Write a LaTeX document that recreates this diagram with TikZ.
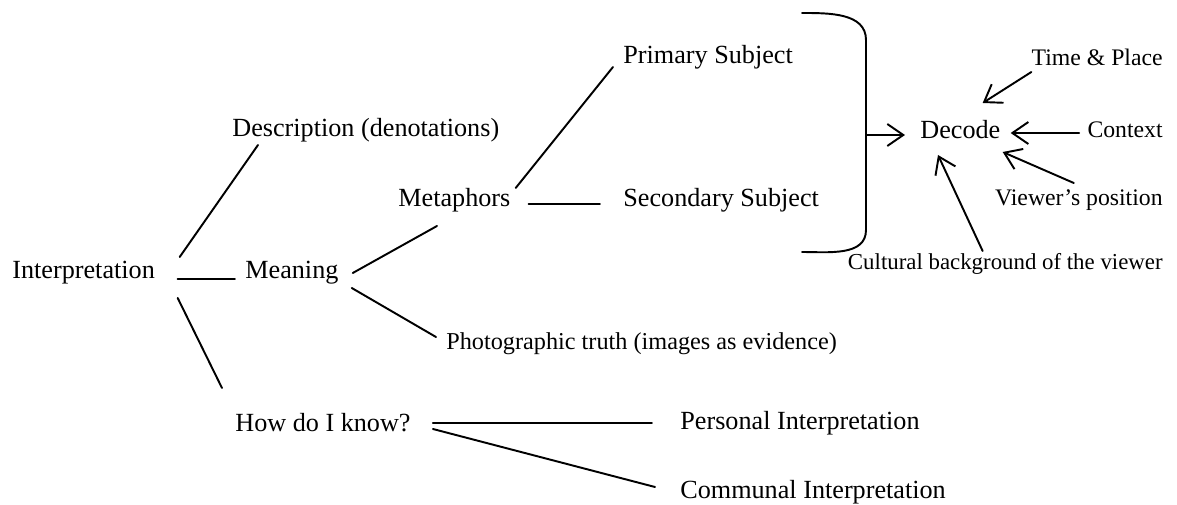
\documentclass[tikz,border=0pt]{standalone}
\usepackage{fontspec}
\setmainfont{Liberation Serif}
\usepackage{tikz}
\usetikzlibrary{arrows.meta,calc}

\newcommand{\mainfs}{\fontsize{14.9}{17}\selectfont}
\newcommand{\smallfs}{\fontsize{13.5}{16}\selectfont}

\begin{document}
\begin{tikzpicture}[
	line cap=round,
	line join=round,
	term/.style={font=\mainfs, anchor=west, inner sep=0pt},
	note/.style={font=\smallfs, anchor=east, inner sep=0pt},
	link/.style={line width=1.1pt},
	pointer/.style={line width=1.1pt, -{Straight Barb[length=0.32cm, width=0.44cm, line width=1.1pt]}}
	]
	\useasboundingbox (0,0) rectangle (23.54,10.10);

	% left part of the tree
	\node[term] (interp) at (0.24,4.64) {Interpretation};
	\node[term] (descr) at (4.64,7.50) {Description (denotations)};
	\node[term] (meaning) at (4.90,4.64) {Meaning};
	\node[term] (howknow) at (4.70,1.64) {How do I know?};
	\node[term] (metaph) at (7.96,6.10) {Metaphors};
	\node[term, font=\fontsize{13.8}{16}\selectfont] (photo) at (8.92,3.22) {Photographic truth (images as evidence)};
	\node[term] (primary) at (12.46,8.96) {Primary Subject};
	\node[term] (secondary) at (12.46,6.10) {Secondary Subject};
	\node[term] (personal) at (13.60,1.64) {Personal Interpretation};
	\node[term] (communal) at (13.60,0.26) {Communal Interpretation};

	% right part
	\node[term] (decode) at (18.40,7.50) {Decode};
	\node[note] (timeplace) at (23.26,8.96) {Time \& Place};
	\node[note] (context) at (23.26,7.50) {Context};
	\node[note] (viewer) at (23.26,6.10) {Viewer's position};
	\node[note, font=\fontsize{13}{15}\selectfont] (cultural) at (23.26,4.82) {Cultural background of the viewer};

	\draw[link] ($(interp.east)+(0.49,0.32)$) -- ($(descr.west)+(0.52,-0.30)$);
	\draw[link] ($(interp.east)+(0.45,-0.12)$) -- ($(meaning.west)+(-0.20,-0.12)$);
	\draw[link] ($(interp.east)+(0.45,-0.50)$) -- ($(howknow.west)+(-0.26,0.70)$);
	\draw[link] ($(meaning.east)+(0.28,0)$) -- ($(metaph.west)+(0.78,-0.52)$);
	\draw[link] ($(meaning.east)+(0.26,-0.30)$) -- ($(photo.west)+(-0.20,0.14)$);
	\draw[link] ($(metaph.east)+(0.10,0.24)$) -- ($(primary.west)+(-0.20,-0.20)$);
	\draw[link] ($(metaph.east)+(0.36,-0.08)$) -- ($(secondary.west)+(-0.46,-0.08)$);
	\draw[link] ($(howknow.east)+(0.44,0)$) -- ($(personal.west)+(-0.56,0)$);
	\draw[link] ($(howknow.east)+(0.44,-0.12)$) -- ($(communal.west)+(-0.50,0.10)$);

	% brace
	\coordinate (bracetop) at (16.04,9.84);
	\coordinate (bracebot) at (16.04,5.06);
	\coordinate (bracemid) at (17.32,7.40);
	\draw[link] (bracetop) to[out=0,in=90] (17.32,9.30) -- (17.32,5.50) to[out=-90,in=0] (bracebot);
	\draw[pointer] (bracemid) -- ($(decode.west)+(-0.30,-0.10)$);

	\draw[pointer] ($(timeplace.west)+(0,-0.30)$) -- ($(decode.east)+(-0.36,0.54)$);
	\draw[pointer] ($(context.west)+(-0.16,-0.06)$) -- ($(decode.east)+(0.20,-0.06)$);
	\draw[pointer] ($(viewer.west)+(1.58,0.34)$) -- ($(decode.east)+(0.04,-0.44)$);
	\draw[pointer] ($(cultural.west)+(2.70,0.26)$) -- ($(decode.west)+(0.36,-0.50)$);
\end{tikzpicture}
\end{document}
